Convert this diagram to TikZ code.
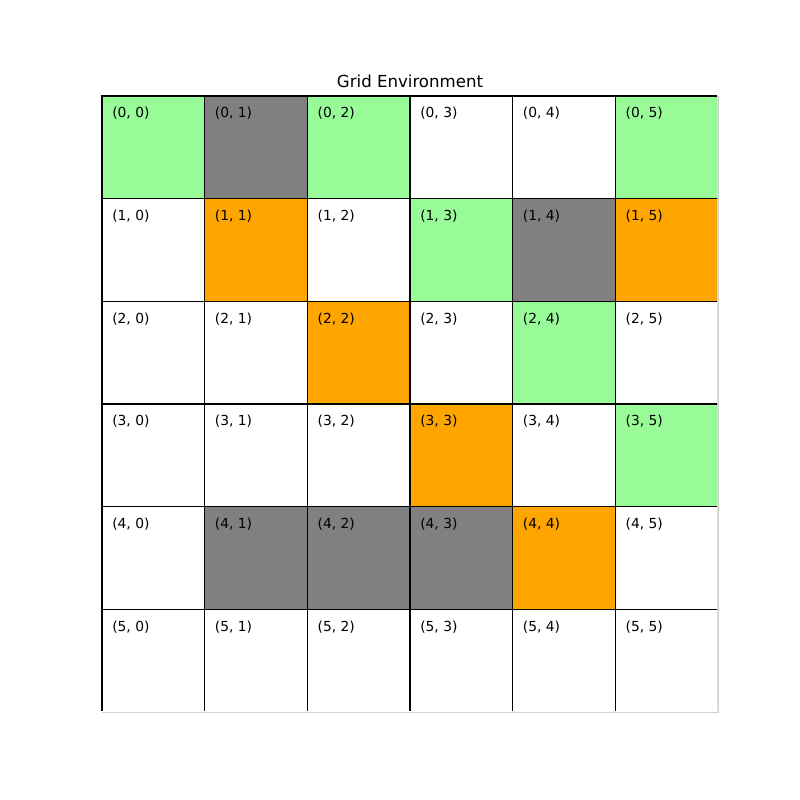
\documentclass[tikz,border=0pt]{standalone}
\usepackage{fontspec}
\setmainfont{DejaVu Sans}
\definecolor{goal}{RGB}{152,251,152}
\definecolor{wall}{RGB}{128,128,128}
\definecolor{hazard}{RGB}{255,165,0}
\colorlet{free}{white}
\tikzset{
    cell/.style={
        draw=black,
        line width=1pt,
        minimum size=2.5667cm,
        inner sep=0pt,
        outer sep=0pt
    },
    celltext/.style={
        anchor=north west,
        inner sep=0pt,
        font=\fontsize{9.84}{12}\selectfont
    },
    title/.style={
        anchor=base,
        inner sep=0pt,
        font=\fontsize{11.8}{14}\selectfont
    },
    clipedge/.style={draw=gray!35, line width=0.5pt}
}
\begin{document}
\begin{tikzpicture}
\useasboundingbox (0,0) rectangle (20,20);

% TITLE
\node[title] (title) at (10.25,17.81) {Grid Environment};

% GRID CELLS
\begin{scope}
\clip (2,2.225) rectangle (17.925,18.2);
\foreach \row/\colors in {0/{goal,wall,goal,free,free,goal},
                          1/{free,hazard,free,goal,wall,hazard},
                          2/{free,free,hazard,free,goal,free},
                          3/{free,free,free,hazard,free,goal},
                          4/{free,wall,wall,wall,hazard,free},
                          5/{free,free,free,free,free,free}}{
    \foreach \c [count=\col from 0] in \colors {
        \node[cell, fill=\c] (cell-\row-\col)
            at ({2.55+(\col+0.5)*2.5667},{17.6-(\row+0.5)*2.5667}) {};
        \node[celltext] (txt-\row-\col)
            at ([shift={(0.25,-0.28)}]cell-\row-\col.north west) {(\row, \col)};
    }
}
\end{scope}

% CLIPPED EDGES
\draw[clipedge] (cell-0-5.north east) -- (cell-5-5.south east) -- (cell-5-0.south west);

\end{tikzpicture}
\end{document}
